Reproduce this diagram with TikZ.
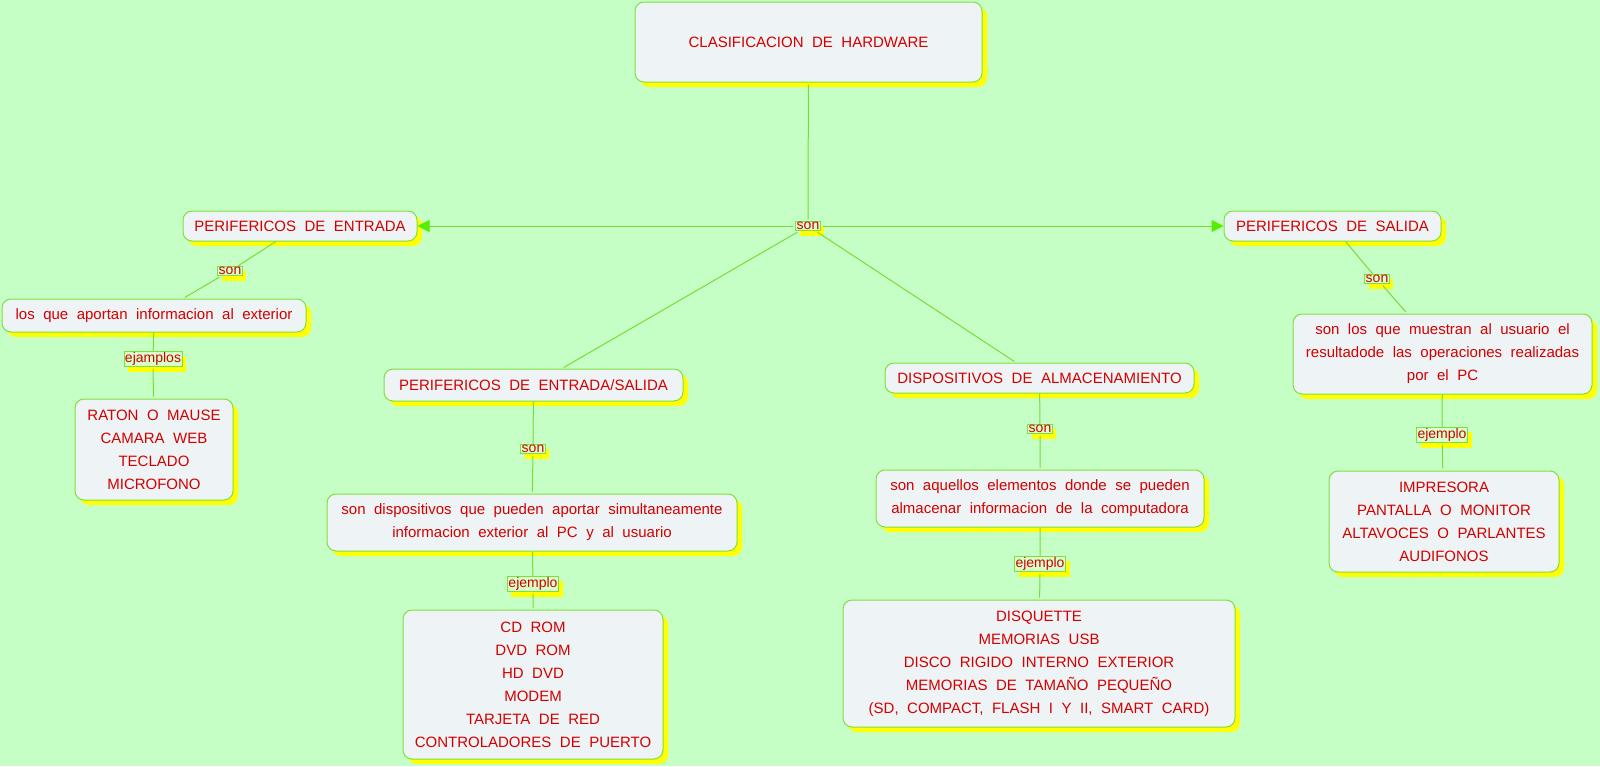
\documentclass[tikz,border=0pt]{standalone}
\usepackage{fontspec}
\setmainfont{Liberation Sans}
\usetikzlibrary{shadows,arrows.meta}

\definecolor{fondo}{HTML}{C6FFC6}
\definecolor{relleno}{HTML}{EEF3F5}
\definecolor{borde}{HTML}{7EE03C}
\definecolor{verde}{HTML}{77DD33}
\definecolor{punta}{HTML}{55EE00}
\definecolor{rojo}{HTML}{D40000}
\definecolor{amarillo}{HTML}{FFFF00}
\definecolor{etiq}{HTML}{D6FFCC}

\newcommand{\letracaja}{\fontsize{15}{23}\selectfont\spaceskip=8.5pt\relax}
\newcommand{\letraenlace}{\fontsize{14}{16}\selectfont}

\begin{document}
\begin{tikzpicture}[
x=1pt, y=-1pt,
caja/.style={draw=borde, line width=1pt, fill=relleno, rounded corners=9pt,
  text=rojo, align=center, inner sep=0pt, font=\letracaja,
  drop shadow={shadow xshift=5pt, shadow yshift=-5pt, fill=amarillo, opacity=1}},
enlace/.style={draw=borde, line width=0.8pt, fill=etiq, text=rojo, inner sep=1pt,
  font=\letraenlace,
  drop shadow={shadow xshift=4pt, shadow yshift=-5pt, fill=amarillo, opacity=1}},
linea/.style={draw=verde, line width=1pt, shorten <=2pt, shorten >=2pt},
flecha/.style={linea, shorten >=0pt, -{Triangle[length=12pt, width=12pt, color=punta]}}
]
\path[use as bounding box, fill=fondo] (0,0) rectangle (1600,766);

% main boxes
\node[caja, minimum width=347pt, minimum height=80pt] (hw) at (808.5,42) {CLASIFICACION DE HARDWARE};
\node[caja, minimum width=234pt, minimum height=30pt] (ent) at (300,226) {PERIFERICOS DE ENTRADA};
\node[caja, minimum width=217pt, minimum height=30pt] (sal) at (1332.5,226) {PERIFERICOS DE SALIDA};
\node[caja, minimum width=299pt, minimum height=32pt] (es) at (533.5,385) {PERIFERICOS DE ENTRADA/SALIDA};
\node[caja, minimum width=309pt, minimum height=30pt] (alm) at (1039.5,378) {DISPOSITIVOS DE ALMACENAMIENTO};

% definitions
\node[caja, minimum width=304pt, minimum height=33pt] (aport) at (154,315.5) {los que aportan informacion al exterior};
\node[caja, minimum width=410pt, minimum height=57pt] (simul) at (532,522.5) {son dispositivos que pueden aportar simultaneamente\\informacion exterior al PC y al usuario};
\node[caja, minimum width=328pt, minimum height=57pt] (aquel) at (1040,498.5) {son aquellos elementos donde se pueden\\almacenar informacion de la computadora};
\node[caja, minimum width=299pt, minimum height=80pt] (muest) at (1442.5,354) {son los que muestran al usuario el\\resultadode las operaciones realizadas\\por el PC};

% examples
\node[caja, minimum width=158pt, minimum height=101pt] (raton) at (154,449.5) {RATON O MAUSE\\CAMARA WEB\\TECLADO\\MICROFONO};
\node[caja, minimum width=260pt, minimum height=149pt] (cdrom) at (533,684.5) {CD ROM\\DVD ROM\\HD DVD\\MODEM\\TARJETA DE RED\\CONTROLADORES DE PUERTO};
\node[caja, minimum width=392pt, minimum height=127pt] (disq) at (1039,663.5) {DISQUETTE\\MEMORIAS USB\\DISCO RIGIDO INTERNO EXTERIOR\\MEMORIAS DE TAMAÑO PEQUEÑO\\(SD, COMPACT, FLASH I Y II, SMART CARD)};
\node[caja, minimum width=230pt, minimum height=101pt] (impr) at (1444,521.5) {IMPRESORA\\PANTALLA O MONITOR\\ALTAVOCES O PARLANTES\\AUDIFONOS};

% link words
\node[enlace] (son0) at (808,226) {son};
\node[enlace] (son1) at (230,271) {son};
\node[enlace] (ejam) at (153,359) {ejamplos};
\node[enlace] (son2) at (533,449) {son};
\node[enlace] (ejem1) at (533,584) {ejemplo};
\node[enlace] (son3) at (1040,429) {son};
\node[enlace] (ejem2) at (1040,564) {ejemplo};
\node[enlace] (son4) at (1377,279) {son};
\node[enlace] (ejem3) at (1442,435) {ejemplo};

% connectors
\draw[linea] (hw) -- (son0);
\draw[flecha] (son0) -- (ent);
\draw[flecha] (son0) -- (sal);
\draw[linea] (son0) -- (es);
\draw[linea] (son0) -- (alm);

\draw[linea] (ent) -- (son1) -- (aport);
\draw[linea] (aport) -- (ejam) -- (raton);

\draw[linea] (es) -- (son2) -- (simul);
\draw[linea] (simul) -- (ejem1) -- (cdrom);

\draw[linea] (alm) -- (son3) -- (aquel);
\draw[linea] (aquel) -- (ejem2) -- (disq);

\draw[linea] (sal) -- (son4) -- (muest);
\draw[linea] (muest) -- (ejem3) -- (impr);

\end{tikzpicture}
\end{document}
